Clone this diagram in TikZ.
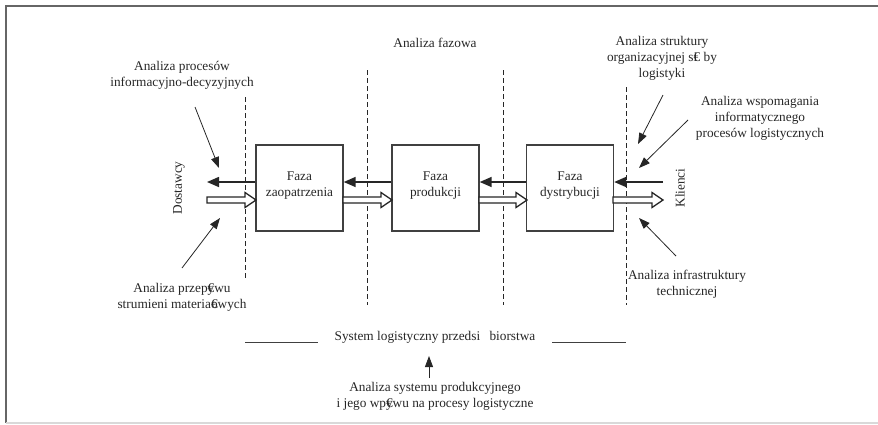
\documentclass[tikz,border=0pt]{standalone}
\usepackage{fontspec}
\setmainfont{Liberation Serif}
\usetikzlibrary{arrows.meta}
\newcommand\gbl[1]{\makebox[0pt][l]{#1}€}
\begin{document}
\begin{tikzpicture}[x=1pt,y=-1pt,
  every node/.style={font=\fontsize{13.3}{16}\selectfont,text=black!85,align=center,inner sep=1pt},
  phasebox/.style={draw=black!75,line width=1.4pt,minimum width=87pt,minimum height=86pt,inner sep=0pt},
  divline/.style={dashed,line width=0.9pt,dash pattern=on 5pt off 3pt,black!85},
  backarrow/.style={line width=1.6pt,black!85,-{Triangle[length=12pt,width=10pt]}},
  hollow/.style={draw=black!85,line width=1.3pt,fill=white,line join=miter},
  note/.style={line width=0.8pt,black!85,-{Triangle[length=11pt,width=8pt]}},
  frameline/.style={line width=1.3pt,black!60}]
\useasboundingbox (0,0) rectangle (878,424);
% frame
\draw[frameline] (878,6) -- (6,6) -- (6,423);
\draw[line width=1.2pt,black!15] (6,423) -- (878,423);
% dashed dividers
\draw[divline] (245,97) -- (245,278);
\draw[divline] (367,70) -- (367,305);
\draw[divline] (503,70) -- (503,305);
\draw[divline] (626,87) -- (626,305);
% boxes
\node[phasebox] (b1) at (299.5,188) {};
\node[phasebox] (b2) at (435.5,188) {};
\node[phasebox] (b3) at (570,188) {};
\node (t1) at (299.5,186) {Faza\\zaopatrzenia};
\node (t2) at (435.5,186) {Faza\\produkcji};
\node (t3) at (570,186) {Faza\\dystrybucji};
% outer ends
\coordinate (lend) at (207,182);
\coordinate (rend) at (663,182);
% back (information) arrows
\draw[backarrow] (b1.west |- 0,182) -- (lend);
\draw[backarrow] (b2.west |- 0,182) -- (b1.east |- 0,182);
\draw[backarrow] (b3.west |- 0,182) -- (b2.east |- 0,182);
\draw[backarrow] (rend) -- (b3.east |- 0,182);
% hollow (material) arrows
\newcommand\hollowarrow[2]{%
  \path[hollow] (#1,197) -- ({#2-11},197) -- ({#2-11},192.5) -- (#2,200) -- ({#2-11},207.5) -- ({#2-11},203) -- (#1,203) -- cycle;}
\hollowarrow{207}{256}
\hollowarrow{343}{392}
\hollowarrow{479}{527}
\hollowarrow{613}{663}
% rotated labels
\node[rotate=90] (dost) at (179,188) {Dostawcy};
\node[rotate=90] (kli) at (680,188) {Klienci};
% annotations
\node (aproc) at (182,75) {Analiza procesów\\informacyjno-decyzyjnych};
\node (afaz) at (435,43) {Analiza fazowa};
\node (astr) at (662,58) {Analiza struktury\\organizacyjnej s\gbl{i} by\\logistyki};
\node (awsp) at (760,118) {Analiza wspomagania\\informatycznego\\procesów logistycznych};
\node (aprz) at (182,297) {Analiza przep\gbl{y}wu\\strumieni materia\gbl{o}wych};
\node[fill=white,inner sep=1pt] (ainf) at (687,284) {Analiza infrastruktury\\technicznej};
\node (sys) at (435,337) {System logistyczny przedsi\hspace{0.7em}biorstwa};
\node (asys) at (435,396) {Analiza systemu produkcyjnego\\i jego wp\gbl{y}wu na procesy logistyczne};
% system lines
\coordinate (sl1) at (245,342);
\coordinate (sr2) at (626,342);
\draw[line width=1pt,black!75] (sl1) -- (318,342);
\draw[line width=1pt,black!75] (552,342) -- (sr2);
% annotation arrows
\coordinate (p1s) at (195,107); \coordinate (p1e) at (219,168);
\draw[note] (p1s) -- (p1e);
\coordinate (p2s) at (182,268); \coordinate (p2e) at (220,218);
\draw[note] (p2s) -- (p2e);
\coordinate (p3s) at (663,95); \coordinate (p3e) at (638,144);
\draw[note] (p3s) -- (p3e);
\coordinate (p4s) at (688,120); \coordinate (p4e) at (639,168);
\draw[note] (p4s) -- (p4e);
\coordinate (p5s) at (676,256); \coordinate (p5e) at (639,218);
\draw[note] (p5s) -- (p5e);
\coordinate (p6s) at (429,378); \coordinate (p6e) at (429,356);
\draw[note] (p6s) -- (p6e);
\end{tikzpicture}
\end{document}
